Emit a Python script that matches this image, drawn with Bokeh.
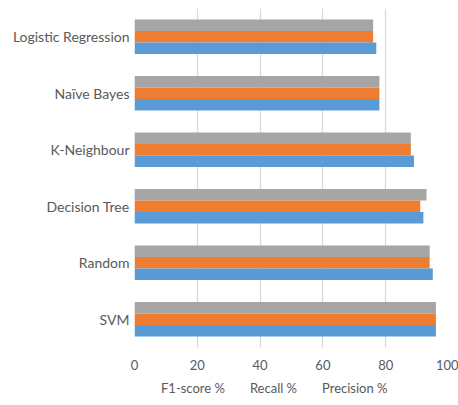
from bokeh.plotting import figure
from bokeh.layouts import column
from bokeh.models import ColumnDataSource, FactorRange, Range1d, FixedTicker, Legend, LegendItem
from bokeh.transform import dodge
from bokeh.embed import file_html
from bokeh.resources import INLINE

models = ["SVM", "Random", "Decision Tree", "K-Neighbour", "Naïve Bayes", "Logistic Regression"]
precision = [96, 95, 92, 89, 78, 77]
recall = [96, 94, 91, 88, 78, 76]
f1 = [96, 94, 93, 88, 78, 76]
x_ticks = [0, 20, 40, 60, 80, 100]
series_labels = ["F1-score %", "Recall %", "Precision %"]
series_colors = ["#A5A5A5", "#ED7D31", "#5B9BD5"]

src = ColumnDataSource(dict(model=models, precision=precision, recall=recall, f1=f1))

p = figure(width=458, height=375, output_backend="svg", toolbar_location=None,
           y_range=FactorRange(factors=models, range_padding=0), x_range=Range1d(0, 100),
           min_border_left=134, min_border_right=10, min_border_top=8, min_border_bottom=28)

bh = 0.204
FONT = "Lato"
p.hbar(y=dodge("model", bh, range=p.y_range), right="f1", left=0, height=bh,
       source=src, color=series_colors[0], line_color=None)
p.hbar(y=dodge("model", 0, range=p.y_range), right="recall", left=0, height=bh,
       source=src, color=series_colors[1], line_color=None)
p.hbar(y=dodge("model", -bh, range=p.y_range), right="precision", left=0, height=bh,
       source=src, color=series_colors[2], line_color=None)

p.outline_line_color = None
p.ygrid.grid_line_color = None
p.xgrid.grid_line_color = "#D9D9D9"
p.xgrid.grid_line_width = 1.3
p.xaxis.ticker = FixedTicker(ticks=x_ticks)
for ax in (p.xaxis[0], p.yaxis[0]):
    ax.axis_line_color = None
    ax.major_tick_line_color = None
    ax.minor_tick_line_color = None
    ax.major_tick_out = 0
    ax.major_tick_in = 0
    ax.minor_tick_out = 0
    ax.minor_tick_in = 0
    ax.major_label_text_color = "#595959"
    ax.major_label_text_font = FONT
p.xaxis.major_label_text_font_size = "13px"
p.yaxis.major_label_text_font_size = "14px"
p.xaxis.major_label_standoff = 12
p.yaxis.major_label_standoff = 5

# legend strip below the chart (its frame is aligned with the chart's frame)
p2 = figure(width=458, height=30, output_backend="svg", toolbar_location=None,
            x_axis_type=None, y_axis_type=None, min_border=0,
            x_range=Range1d(0, 1), y_range=Range1d(0, 1))
p2.outline_line_color = None
p2.xgrid.visible = False
p2.ygrid.visible = False
items = []
for lab, col in zip(series_labels, series_colors):
    r = p2.hbar(y=[], right=[], left=0, height=1, color=col, line_color=None)
    items.append(LegendItem(label=lab, renderers=[r]))
legend = Legend(items=items, orientation="horizontal", location=(18, 9),
                border_line_color=None, background_fill_alpha=0,
                label_text_font=FONT, label_text_font_size="13px", label_text_color="#595959",
                glyph_width=6, glyph_height=6, label_standoff=3, spacing=16,
                padding=0, margin=0, label_height=14)
p2.add_layout(legend, "center")

layout = column(p, p2, spacing=0)
open("out.html", "w").write(file_html(layout, INLINE))
